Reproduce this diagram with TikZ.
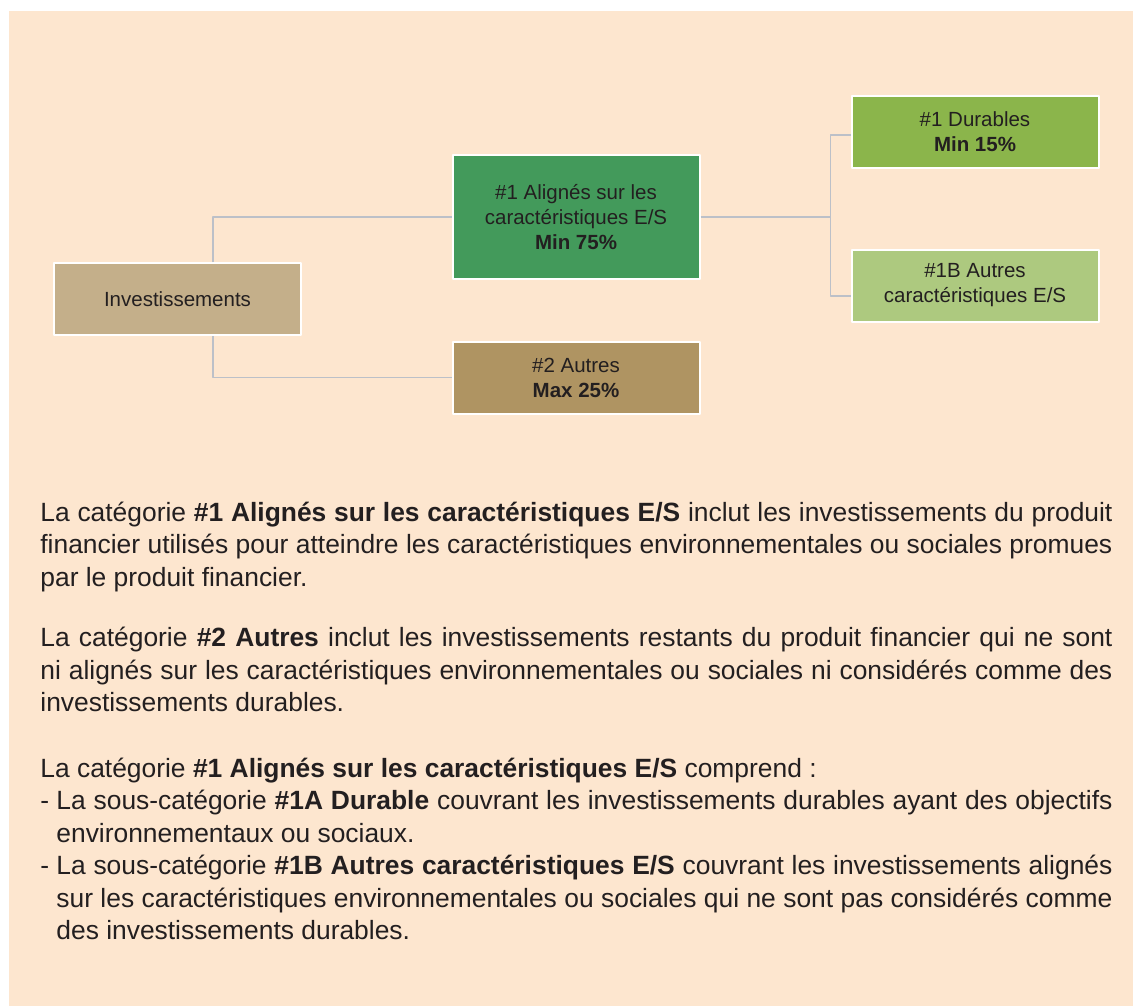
\documentclass[tikz,border=0pt]{standalone}
\usepackage{fontspec}
\setmainfont{Liberation Sans}
\definecolor{peach}{HTML}{FDE6CF}
\definecolor{ink}{HTML}{231F20}
\definecolor{wire}{HTML}{BCC0C8}
\definecolor{invcol}{HTML}{C4AF8A}
\definecolor{alcol}{HTML}{439A5B}
\definecolor{aucol}{HTML}{AF9462}
\definecolor{durcol}{HTML}{8BB54B}
\definecolor{othcol}{HTML}{ADC97F}
\tikzset{
  box/.style={draw=white, line width=1pt, text=ink, minimum width=123.5pt, minimum height=36pt,
    align=center, inner sep=0pt, font=\fontsize{10.25}{12.5}\selectfont},
  link/.style={draw=wire, line width=0.75pt},
  para/.style={anchor=base west, text width=536pt, align=justify, inner sep=0pt, text=ink,
    font=\fontsize{13.2}{16.25}\selectfont}
}
\newcommand\dashitem{\par\noindent\hskip-8pt\hbox to 8pt{-\hfil}}
\begin{document}
\begin{tikzpicture}[x=0.5pt,y=-0.5pt, line join=round]
\useasboundingbox[fill=white](0,0)rectangle(1133,1006);
\fill[peach](9,11)rectangle(1133,1006);
% boxes
\node[box,fill=invcol](inv) at (177.5,299){Investissements};
\node[box,fill=alcol,minimum height=62pt](al) at (576,217){\#1 Alignés sur les\\caractéristiques E/S\\\textbf{Min 75\%}};
\node[box,fill=aucol](au) at (576,377.5){\#2 Autres\\\textbf{Max 25\%}};
\node[box,fill=durcol](dur) at (975,132){\#1 Durables\\\textbf{Min 15\%}};
\node[box,fill=othcol](oth) at (975,285.5){\#1B Autres\\caractéristiques E/S};
% connectors
\draw[link]([xshift=17.75pt]inv.north)|-(al);
\draw[link]([xshift=17.75pt]inv.south)|-(au);
\draw[link](al.east)--++(130,0)coordinate(fork);
\draw[link]([yshift=-1.5pt]dur.west)-|(fork)|-([yshift=-5.25pt]oth.west);
% text
\node[para](p1) at (40,521){La catégorie \textbf{\#1 Alignés sur les caractéristiques E/S} inclut les investissements du produit\linebreak
financier utilisés pour atteindre les caractéristiques environnementales ou sociales promues\linebreak
par le produit financier.};
\node[para](p2) at (40,646.7){La catégorie \textbf{\#2 Autres} inclut les investissements restants du produit financier qui ne sont\linebreak
ni alignés sur les caractéristiques environnementales ou sociales ni considérés comme des\linebreak
investissements durables.};
\node[para](p3) at (40,777){La catégorie \textbf{\#1 Alignés sur les caractéristiques E/S} comprend~:\par
{\leftskip=8pt
\dashitem La sous-catégorie \textbf{\#1A Durable} couvrant les investissements durables ayant des objectifs\linebreak
environnementaux ou sociaux.
\dashitem La sous-catégorie \textbf{\#1B Autres caractéristiques E/S} couvrant les investissements alignés\linebreak
sur les caractéristiques environnementales ou sociales qui ne sont pas considérés comme\linebreak
des investissements durables.\par}};
\end{tikzpicture}
\end{document}
